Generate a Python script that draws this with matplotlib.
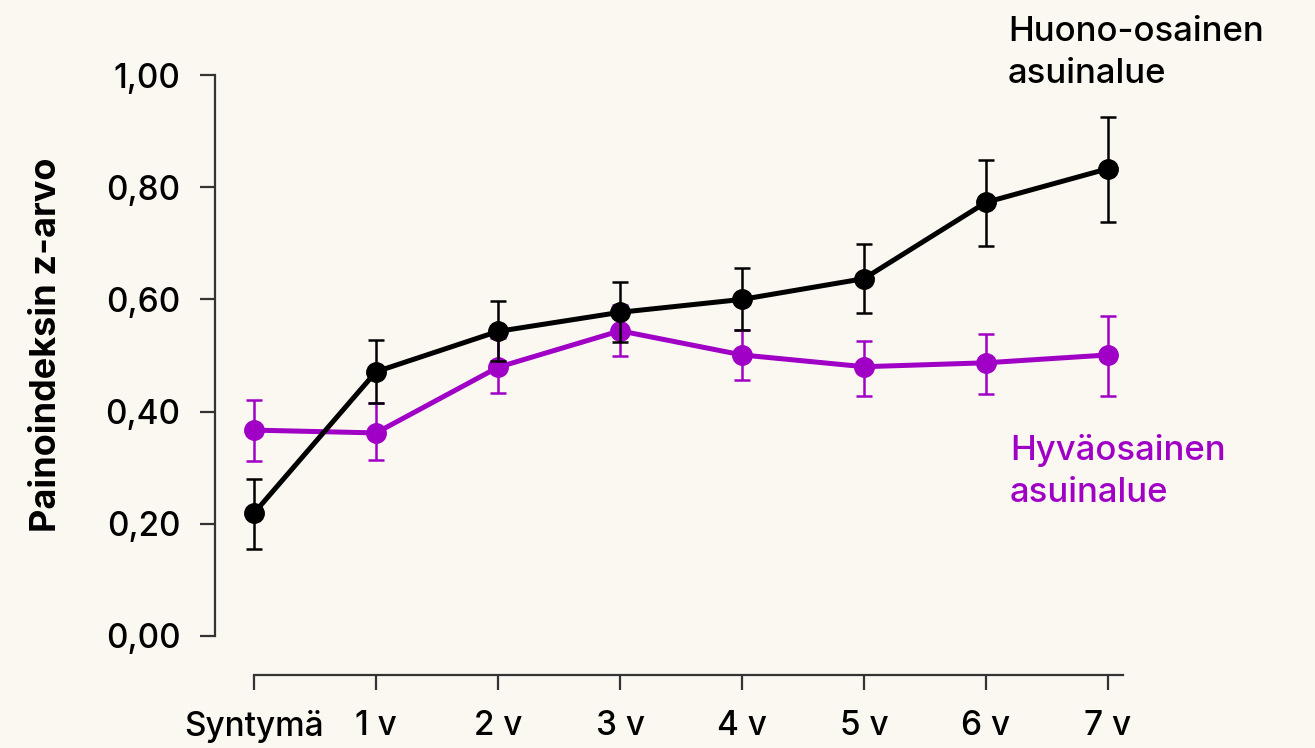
import matplotlib
matplotlib.use("Agg")
import matplotlib.pyplot as plt
import numpy as np

# data
ages = ["Syntymä", "1 v", "2 v", "3 v", "4 v", "5 v", "6 v", "7 v"]

poor_mean = [0.219, 0.471, 0.543, 0.577, 0.600, 0.637, 0.773, 0.833]
poor_low = [0.155, 0.415, 0.490, 0.524, 0.545, 0.576, 0.695, 0.738]
poor_high = [0.280, 0.528, 0.597, 0.631, 0.656, 0.698, 0.849, 0.926]

good_mean = [0.367, 0.362, 0.479, 0.544, 0.501, 0.480, 0.487, 0.501]
good_low = [0.312, 0.314, 0.433, 0.500, 0.456, 0.428, 0.431, 0.428]
good_high = [0.421, 0.415, 0.531, 0.590, 0.545, 0.526, 0.538, 0.570]

y_ticks = [0.0, 0.2, 0.4, 0.6, 0.8, 1.0]

BG = "#FAF8F0"
PURPLE = "#A000C6"
SPINE = "#333333"

plt.rcParams["font.family"] = ["Inter", "DejaVu Sans"]

fig = plt.figure(figsize=(13.15, 7.48), dpi=100, facecolor=BG)
ax = fig.add_axes([215 / 1315, 1 - 675 / 748, (1125 - 215) / 1315, (675 - 60) / 748])
ax.set_facecolor(BG)

x = np.arange(len(ages))


def draw(mean, low, high, color, z):
    mean = np.array(mean)
    yerr = [mean - np.array(low), np.array(high) - mean]
    ax.errorbar(x, mean, yerr=yerr, fmt="none", ecolor=color, elinewidth=1.8,
                capsize=6, capthick=1.8, zorder=z)
    ax.plot(x, mean, color=color, linewidth=3.6, marker="o", markersize=14,
            zorder=z + 1)


draw(good_mean, good_low, good_high, PURPLE, 2)
draw(poor_mean, poor_low, poor_high, "black", 4)

ax.set_xlim((215 - 254) / 122, (1125 - 254) / 122)
ax.set_ylim((636 - 675) / 561, (636 - 60) / 561)

ax.spines["top"].set_visible(False)
ax.spines["right"].set_visible(False)
ax.spines["left"].set_bounds(0, 1)
ax.spines["bottom"].set_bounds(0, 7.12)
for s in ("left", "bottom"):
    ax.spines[s].set_color(SPINE)
    ax.spines[s].set_linewidth(1.6)

ax.set_yticks(y_ticks)
ax.set_yticklabels([f"{v:.2f}".replace(".", ",") for v in y_ticks])
ax.set_xticks(x)
ax.set_xticklabels(ages)
ax.tick_params(axis="both", length=11, width=1.6, color=SPINE, labelsize=24, pad=14)
for lab in ax.get_xticklabels() + ax.get_yticklabels():
    lab.set_fontweight(500)

fig.text(47 / 1315, 1 - 345 / 748, "Painoindeksin z-arvo", rotation=90,
         ha="center", va="center", fontsize=26, fontweight="bold")

fig.text(1008 / 1315, 1 - 83 / 748, "Huono-osainen\nasuinalue", ha="left",
         va="baseline", fontsize=25, fontweight=500, color="black",
         linespacing=1.4)
fig.text(1010 / 1315, 1 - 502 / 748, "Hyväosainen\nasuinalue", ha="left",
         va="baseline", fontsize=25, fontweight=500, color=PURPLE,
         linespacing=1.4)

fig.savefig("out.png", dpi=100, facecolor=BG)
